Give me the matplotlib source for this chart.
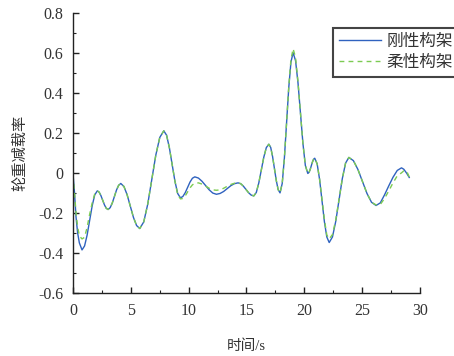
import matplotlib.pyplot as plt
from matplotlib.ticker import MultipleLocator, FuncFormatter

plt.rcParams['font.family'] = ['Liberation Serif', 'Noto Sans CJK SC']
plt.rcParams['axes.unicode_minus'] = False

# sample times (s)
t = [0.0, 0.13, 0.26, 0.4, 0.55, 0.78,
     1.0, 1.22, 1.44, 1.66, 1.88, 2.1,
     2.255, 2.41, 2.565, 2.72, 2.875, 3.03,
     3.213, 3.397, 3.58, 3.763, 3.947, 4.13,
     4.403, 4.677, 4.95, 5.223, 5.497, 5.77,
     6.117, 6.463, 6.81, 7.157, 7.503, 7.85,
     8.09, 8.33, 8.57, 8.81, 9.05, 9.29,
     9.497, 9.703, 9.91, 10.117, 10.323, 10.53,
     10.842, 11.153, 11.465, 11.777, 12.088, 12.4,
     12.712, 13.023, 13.335, 13.647, 13.958, 14.27,
     14.497, 14.723, 14.95, 15.177, 15.403, 15.63,
     15.847, 16.063, 16.28, 16.497, 16.713, 16.93,
     17.092, 17.253, 17.415, 17.577, 17.738, 17.9,
     18.088, 18.277, 18.465, 18.653, 18.842, 19.03,
     19.242, 19.453, 19.665, 19.877, 20.088, 20.3,
     20.4, 20.5, 20.6, 20.7, 20.8, 20.9,
     21.108, 21.317, 21.525, 21.733, 21.942, 22.15,
     22.433, 22.717, 23.0, 23.283, 23.567, 23.85,
     24.242, 24.633, 25.025, 25.417, 25.808, 26.2,
     26.567, 26.933, 27.3, 27.667, 28.033, 28.4,
     28.6, 28.85, 29.07]

# rigid bogie frame
rigid = [-0.003, -0.10, -0.22, -0.30, -0.35, -0.385,
         -0.365, -0.311, -0.2375, -0.164, -0.110, -0.09,
         -0.096, -0.113, -0.1365, -0.160, -0.177, -0.183,
         -0.174, -0.1505, -0.118, -0.0855, -0.062, -0.053,
         -0.068, -0.109, -0.1655, -0.222, -0.263, -0.278,
         -0.245, -0.156, -0.034, 0.088, 0.177, 0.21,
         0.188, 0.126, 0.0425, -0.041, -0.103, -0.125,
         -0.118, -0.099, -0.0725, -0.046, -0.027, -0.02,
         -0.026, -0.042, -0.0635, -0.085, -0.101, -0.107,
         -0.103, -0.093, -0.0785, -0.064, -0.054, -0.05,
         -0.054, -0.066, -0.0825, -0.099, -0.111, -0.115,
         -0.098, -0.0505, 0.014, 0.0785, 0.126, 0.143,
         0.127, 0.082, 0.0215, -0.039, -0.084, -0.10,
         -0.053, 0.075, 0.25, 0.425, 0.553, 0.60,
         0.560, 0.449, 0.2985, 0.148, 0.037, -0.003,
         0.002, 0.016, 0.035, 0.054, 0.068, 0.073,
         0.045, -0.032, -0.1375, -0.243, -0.320, -0.348,
         -0.320, -0.242, -0.1355, -0.029, 0.049, 0.077,
         0.061, 0.017, -0.043, -0.103, -0.147, -0.163,
         -0.150, -0.110, -0.065, -0.022, 0.012, 0.025,
         0.018, -0.002, -0.023]

# flexible bogie frame
flexible = [-0.01, -0.10, -0.20, -0.27, -0.315, -0.33,
            -0.322, -0.272, -0.207, -0.15, -0.105, -0.09,
            -0.096, -0.113, -0.1365, -0.160, -0.177, -0.183,
            -0.174, -0.1505, -0.118, -0.0855, -0.062, -0.053,
            -0.068, -0.109, -0.1655, -0.222, -0.263, -0.278,
            -0.245, -0.156, -0.034, 0.088, 0.177, 0.21,
            0.188, 0.126, 0.0425, -0.041, -0.108, -0.13,
            -0.128, -0.115, -0.095, -0.075, -0.06, -0.052,
            -0.05, -0.056, -0.066, -0.077, -0.085, -0.087,
            -0.085, -0.077, -0.067, -0.058, -0.052, -0.05,
            -0.054, -0.066, -0.0825, -0.099, -0.111, -0.115,
            -0.098, -0.0505, 0.014, 0.0785, 0.126, 0.143,
            0.127, 0.082, 0.0215, -0.039, -0.084, -0.10,
            -0.053, 0.075, 0.25, 0.43, 0.565, 0.62,
            0.575, 0.455, 0.30, 0.148, 0.037, -0.003,
            0.002, 0.016, 0.035, 0.054, 0.068, 0.073,
            0.045, -0.030, -0.13, -0.232, -0.31, -0.33,
            -0.308, -0.235, -0.132, -0.029, 0.049, 0.077,
            0.061, 0.017, -0.043, -0.103, -0.147, -0.16,
            -0.158, -0.128, -0.09, -0.05, -0.015, 0.0,
            0.01, 0.008, -0.02]

fig = plt.figure(figsize=(4.54, 3.56), dpi=100)
ax = fig.add_axes([0.1608, 0.177, 0.7643, 0.7874])

ax.plot(t, rigid, color='#2f62bf', lw=1.0, label='刚性构架')
ax.plot(t, flexible, color='#7ccb52', lw=1.0, ls=(0, (3.5, 3)), label='柔性构架')

ax.set_xlim(0, 30)
ax.set_ylim(-0.6, 0.8)
ax.xaxis.set_major_locator(MultipleLocator(5))
ax.xaxis.set_minor_locator(MultipleLocator(2.5))
ax.yaxis.set_major_locator(MultipleLocator(0.2))
ax.yaxis.set_minor_locator(MultipleLocator(0.1))
ax.yaxis.set_major_formatter(FuncFormatter(lambda v, p: f'{v:.1f}'.rstrip('0').rstrip('.') if abs(v) > 1e-9 else '0'))

for s in ['top', 'right']:
    ax.spines[s].set_visible(False)
for s in ['left', 'bottom']:
    ax.spines[s].set_color('#222222')
    ax.spines[s].set_linewidth(1.0)
ax.tick_params(which='both', direction='in', colors='#222222', labelcolor='#333333', labelsize=11.5)
ax.tick_params(axis='x', which='major', length=4, width=1.0, pad=7)
ax.tick_params(axis='y', which='major', length=4, width=1.0, pad=7)
ax.tick_params(which='minor', length=2.5, width=0.8)

ax.set_xlabel('时间/s', fontsize=10.5, color='#333333', labelpad=15)
ax.set_ylabel('轮重减载率', fontsize=11, color='#333333', labelpad=8)

leg = ax.legend(loc='upper left', bbox_to_anchor=(0.7335, 0.9213), bbox_transform=fig.transFigure,
                fancybox=False, framealpha=1, edgecolor='#444444', fontsize=12,
                handlelength=2.5, handletextpad=0.35, borderpad=0.35, labelspacing=0.3,
                borderaxespad=0)
leg.get_frame().set_linewidth(1.5)
for txt in leg.get_texts():
    txt.set_color('#333333')

fig.savefig('out.png', dpi=100)
